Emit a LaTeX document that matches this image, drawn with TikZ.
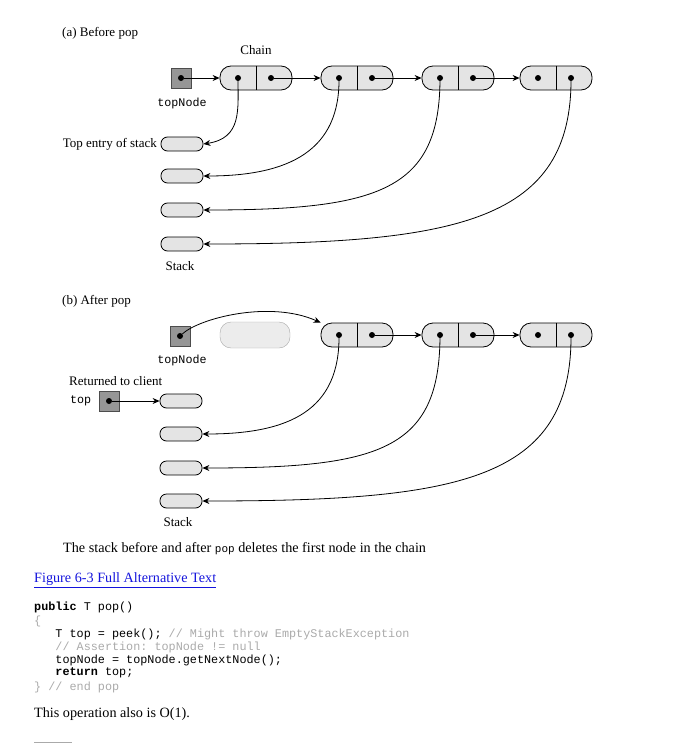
\documentclass[tikz,border=0pt]{standalone}
\usepackage{fontspec}
\setmainfont{Liberation Serif}
\setmonofont{Liberation Mono}
\usetikzlibrary{arrows.meta}
\definecolor{fillg}{RGB}{228,228,228}
\definecolor{boxg}{RGB}{150,150,150}
\definecolor{cmt}{RGB}{170,170,170}
\definecolor{linkb}{RGB}{20,20,220}
\tikzset{
  pill/.style={draw,thick,fill=fillg,rounded corners=11pt,minimum width=72pt,minimum height=24pt,inner sep=0},
  ghost/.style={draw=cmt,fill=fillg!70,rounded corners=11pt,minimum width=70pt,minimum height=26pt,inner sep=0},
  soval/.style={draw,thick,fill=fillg,rounded corners=6.5pt,minimum width=42pt,minimum height=14pt,inner sep=0},
  sq/.style={draw=black!70,fill=boxg,minimum size=20pt,inner sep=0},
  dot/.style={circle,fill=black,inner sep=0,minimum size=6pt},
  arr/.style={thick,-{Stealth[length=7pt,width=6pt]}},
  lbl/.style={font=\fontsize{13}{15}\selectfont,inner sep=0},
  mlbl/.style={font=\ttfamily\fontsize{11.7}{13}\selectfont,inner sep=0},
  code/.style={font=\ttfamily\fontsize{11.8}{13}\selectfont,inner sep=0,anchor=west},
  txt/.style={font=\fontsize{14.2}{16}\selectfont,inner sep=0,anchor=west}
}
\newcommand{\chainnode}[3]{% name, x, y
  \node[pill] (#1) at (#2,#3) {};
  \draw[thick] (#1.north) -- (#1.south);
  \node[dot] (#1l) at ([xshift=-18pt]#1.center) {};
  \node[dot] (#1r) at ([xshift=15pt]#1.center) {};
}
\begin{document}
\begin{tikzpicture}[x=1pt,y=-1pt]
\useasboundingbox (0,0) rectangle (675,744);
% (a)
\node[lbl,anchor=west] (ta) at (62,33) {(a) Before pop};
\node[lbl] (chain) at (256,50) {Chain};
\node[sq] (tn) at (181,78) {};
\node[dot] (tnd) at (tn.center) {};
\node[mlbl] (tnl) at (182,103) {topNode};
\chainnode{a1}{256}{78}
\chainnode{a2}{357}{78}
\chainnode{a3}{458}{78}
\chainnode{a4}{556}{78}
\draw[arr] (tnd) -- (a1.west);
\draw[arr] (a1r) -- (a2.west);
\draw[arr] (a2r) -- (a3.west);
\draw[arr] (a3r) -- (a4.west);
\node[soval] (s1) at (182,144) {};
\node[soval] (s2) at (182,176) {};
\node[soval] (s3) at (182,210) {};
\node[soval] (s4) at (182,244) {};
\node[lbl,anchor=east] (tes) at (157,144) {Top entry of stack};
\node[lbl] (stka) at (180,266) {Stack};
\draw[arr] (a1l.center) .. controls (238,110) and (242,138) .. (s1.east);
\draw[arr] (a2l.center) .. controls (340,150) and (290,176) .. (s2.east);
\draw[arr] (a3l.center) .. controls (440,190) and (380,210) .. (s3.east);
\draw[arr] (a4r.center) .. controls (572,220) and (460,244) .. (s4.east);
% (b)
\node[lbl,anchor=west] (tb) at (62,301) {(b) After pop};
\node[sq] (tn2) at (180,336) {};
\node[dot] (tn2d) at (tn2.center) {};
\node[mlbl] (tn2l) at (182,360) {topNode};
\node[ghost] (gh) at (255,335) {};
\chainnode{b2}{357}{335}
\chainnode{b3}{458}{335}
\chainnode{b4}{556}{335}
\draw[arr] (tn2d) .. controls (200,318) and (270,300) .. (b2.north west);
\draw[arr] (b2r) -- (b3.west);
\draw[arr] (b3r) -- (b4.west);
\node[lbl,anchor=west] (rtc) at (69,381) {Returned to client};
\node[mlbl,anchor=west] (topl) at (70,401) {top};
\node[sq] (tp) at (109,401) {};
\node[dot] (tpd) at (tp.center) {};
\node[soval] (r1) at (181,401) {};
\node[soval] (r2) at (181,434) {};
\node[soval] (r3) at (181,468) {};
\node[soval] (r4) at (181,501) {};
\draw[arr] (tpd) -- (r1.west);
\draw[arr] (b2l.center) .. controls (340,410) and (290,434) .. (r2.east);
\draw[arr] (b3l.center) .. controls (440,450) and (380,468) .. (r3.east);
\draw[arr] (b4r.center) .. controls (572,480) and (460,501) .. (r4.east);
\node[lbl] (stkb) at (178,522) {Stack};
% text
\node[txt] (cap) at (63,549) {The stack before and after {\ttfamily\fontsize{11}{12}\selectfont pop} deletes the first node in the chain};
\node[txt,text=linkb] (lnk) at (34,580) {\underline{Figure 6-3 Full Alternative Text}};
\node[code] (c1) at (34,607) {\textbf{public} T pop()};
\node[code,text=cmt] (c2) at (34,621) {\{};
\node[code] (c3) at (34,634) {\ \ \ T top = peek(); \textcolor{cmt}{// Might throw EmptyStackException}};
\node[code,text=cmt] (c4) at (34,647) {\ \ \ // Assertion: topNode != null};
\node[code] (c5) at (34,660) {\ \ \ topNode = topNode.getNextNode();};
\node[code] (c6) at (34,673) {\ \ \ \textbf{return} top;};
\node[code,text=cmt] (c7) at (34,687) {\} // end pop};
\node[txt] (op) at (34,714) {This operation also is O(1).};
\draw[cmt,thick] (34,742) -- (72,742);
\end{tikzpicture}
\end{document}
